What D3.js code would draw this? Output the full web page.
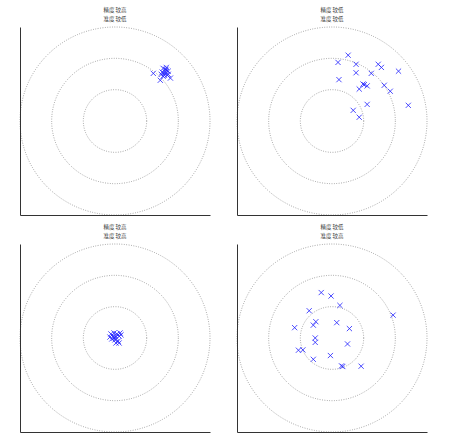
<!DOCTYPE html>
<html><head><meta charset="utf-8">
<script src="https://cdn.jsdelivr.net/npm/d3@7"></script>
<style>body{margin:0;background:#fff}</style>
</head><body>
<svg id="c" width="451" height="438"></svg>
<script>
// Titles (two lines per panel)
const titles = [
  ["精度 较高", "准度 较低"],
  ["精度 较低", "准度 较低"],
  ["精度 较高", "准度 较高"],
  ["精度 较低", "准度 较高"]
];
const ringRadii = [1, 2, 3];
const axisDomain = [-3, 3];

// Panel 1: precise, not accurate
const p1x = [1.21,1.43,1.52,1.62,1.49,1.59,1.68,1.56,1.65,1.75,1.46,1.62,1.52,1.68,1.55,1.60];
const p1y = [1.52,1.30,1.68,1.71,1.56,1.56,1.59,1.46,1.46,1.37,1.49,1.62,1.43,1.49,1.52,1.65];
// Panel 2: neither
const p2x = [0.19,0.51,0.76,1.46,1.56,0.76,1.24,2.10,0.22,0.98,1.02,1.11,0.86,1.65,1.84,2.41,1.11,0.67,0.86];
const p2y = [1.87,2.10,1.81,1.81,1.71,1.54,1.52,1.59,1.32,1.18,1.16,1.12,1.02,1.14,0.95,0.50,0.53,0.34,0.12];
// Panel 3: precise and accurate
const p3x = [-0.13,-0.03,0.06,0.16,-0.06,0.03,0.13,-0.10,0.00,0.10,0.03,0.19,-0.16,-0.03,0.13];
const p3y = [0.13,0.16,0.13,0.16,0.06,0.03,0.06,-0.03,-0.06,-0.10,-0.16,0.10,0.03,0.00,-0.16];
// Panel 4: accurate, not precise
const p4x = [-0.34,-0.03,0.25,-0.72,1.93,-0.51,-0.59,0.15,-1.18,0.55,-0.53,-0.53,0.49,-1.06,-0.92,-0.59,-0.05,0.30,0.34,0.92];
const p4y = [1.45,1.34,1.04,0.87,0.73,0.52,0.41,0.49,0.33,0.30,0.00,-0.14,-0.19,-0.39,-0.38,-0.68,-0.56,-0.89,-0.91,-0.90];

const panels = [
  {xs:p1x, ys:p1y, left:20, top:27},
  {xs:p2x, ys:p2y, left:237, top:27},
  {xs:p3x, ys:p3y, left:20, top:244},
  {xs:p4x, ys:p4y, left:237, top:244}
];
const W = 190, H = 188;
const svg = d3.select("#c");

panels.forEach((p, i) => {
  const g = svg.append("g").attr("transform", `translate(${p.left},${p.top})`);
  const x = d3.scaleLinear().domain(axisDomain).range([0, W]);
  const y = d3.scaleLinear().domain(axisDomain).range([H, 0]);

  // rings
  g.selectAll("ellipse.ring").data(ringRadii).join("ellipse")
    .attr("class","ring")
    .attr("cx", x(0)).attr("cy", y(0))
    .attr("rx", d => x(d) - x(0)).attr("ry", d => y(0) - y(d))
    .attr("fill","none").attr("stroke","#777").attr("stroke-width",0.8)
    .attr("stroke-dasharray","0.8,1.6");

  // markers
  const pts = p.xs.map((v, k) => [v, p.ys[k]]);
  const s = 2.6;
  g.selectAll("path.pt").data(pts).join("path")
    .attr("class","pt")
    .attr("d", d => {
      const cx = x(d[0]), cy = y(d[1]);
      return `M${cx-s},${cy-s}L${cx+s},${cy+s}M${cx-s},${cy+s}L${cx+s},${cy-s}`;
    })
    .attr("stroke","#2020ff").attr("stroke-opacity",0.8).attr("stroke-width",1).attr("fill","none");

  // spines (left + bottom) via axes with no ticks
  g.append("g").attr("transform",`translate(0,${H})`)
    .call(d3.axisBottom(x).tickValues([]).tickSizeOuter(0))
    .call(a => a.select(".domain").attr("stroke","#333").attr("stroke-width",1));
  g.append("g")
    .call(d3.axisLeft(y).tickValues([]).tickSizeOuter(0))
    .call(a => a.select(".domain").attr("stroke","#333").attr("stroke-width",1));

  // title: two separate lines
  titles[i].forEach((line, j) => {
    g.append("text").attr("x", x(0)).attr("y", -15 + j * 9)
      .attr("text-anchor","middle")
      .attr("font-family","'Noto Sans CJK SC', sans-serif")
      .attr("font-size", 5.5).attr("fill","#444")
      .text(line);
  });
});
</script>
</body></html>
